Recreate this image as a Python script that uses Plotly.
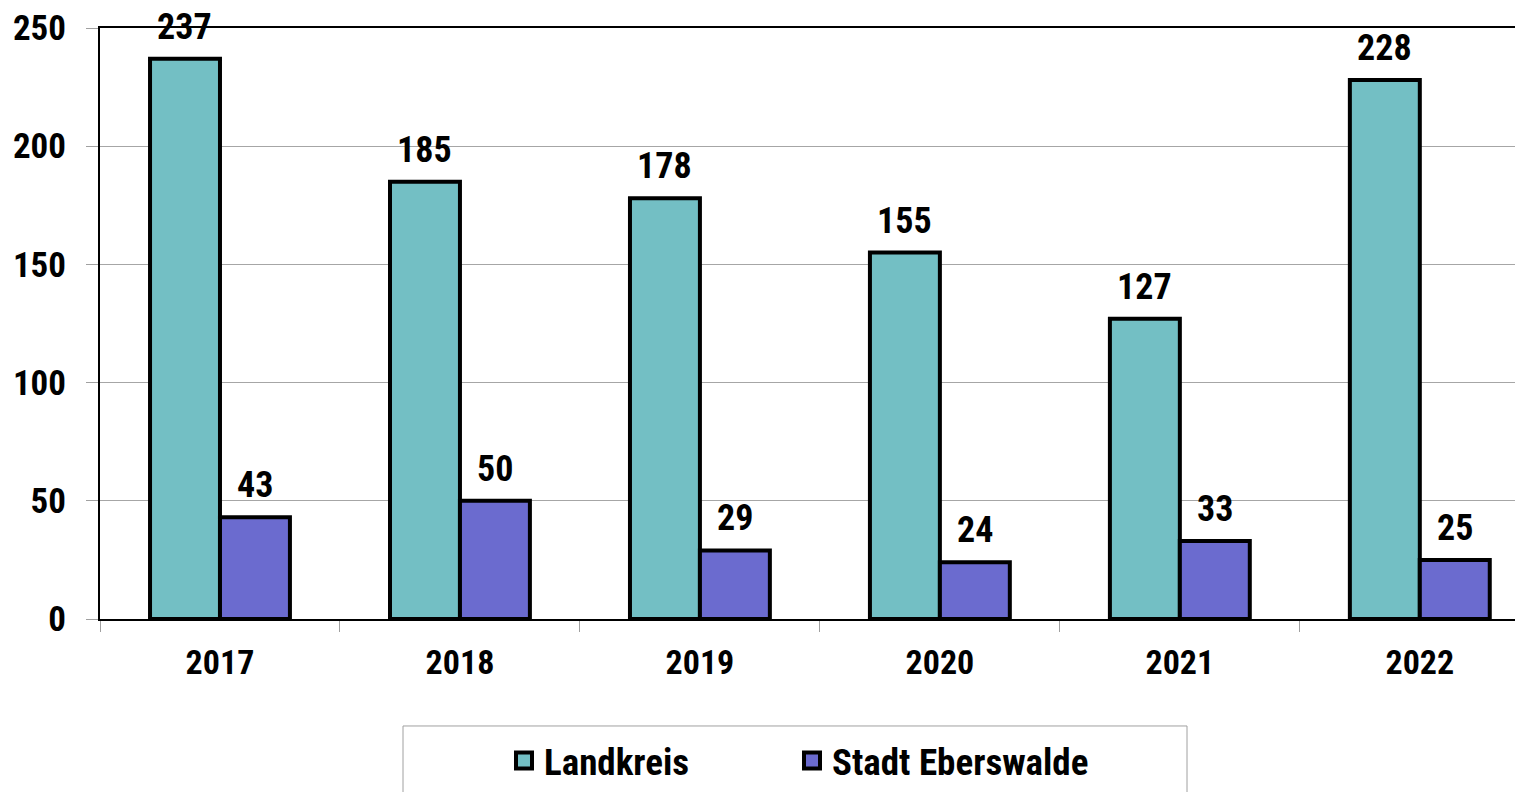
import plotly.graph_objects as go

years = ["2017", "2018", "2019", "2020", "2021", "2022"]
landkreis = [237, 185, 178, 155, 127, 228]
eberswalde = [43, 50, 29, 24, 33, 25]

FONT = "Liberation Sans Narrow, Arial Narrow, Roboto Condensed, sans-serif"
TEAL = "#73BFC4"
PURPLE = "#6B6BCF"

fig = go.Figure()
fig.add_trace(go.Bar(
    x=years, y=landkreis, name="Landkreis", showlegend=False,
    marker=dict(color=TEAL, line=dict(color="black", width=4)),
))
fig.add_trace(go.Bar(
    x=years, y=eberswalde, name="Stadt Eberswalde", showlegend=False,
    marker=dict(color=PURPLE, line=dict(color="black", width=4)),
))

# legend entries with bigger square swatches, one legend each
for name, col, lg in (("Landkreis", TEAL, "legend"),
                      ("Stadt Eberswalde", PURPLE, "legend2")):
    fig.add_trace(go.Scatter(
        x=[None], y=[None], mode="markers", name=name, legend=lg,
        marker=dict(symbol="square", size=16, color=col,
                    line=dict(color="black", width=4)),
    ))

# value labels above bars
for i, (a, b) in enumerate(zip(landkreis, eberswalde)):
    for val, shift in ((a, -35), (b, 35)):
        fig.add_annotation(
            xref="x", yref="y", x=i, y=val, text=f"<b>{val}</b>",
            showarrow=False, xshift=shift, yshift=9, yanchor="bottom",
            font=dict(family=FONT, size=36, color="black"),
        )

# legend frame
fig.add_shape(
    type="rect", xref="paper", yref="paper",
    x0=(403 - 100) / 1423, x1=(1187 - 100) / 1423,
    y0=-0.181, y1=-0.35,
    line=dict(color="#A0A0A0", width=1), fillcolor="rgba(0,0,0,0)",
)

legend_style = dict(
    orientation="h", xanchor="left", y=-0.187, yanchor="top",
    bgcolor="rgba(0,0,0,0)",
    font=dict(family=FONT, size=37, color="black", weight="bold"),
)

fig.update_layout(
    width=1515, height=784,
    margin=dict(l=92, r=0, t=20, b=172),
    plot_bgcolor="white", paper_bgcolor="white",
    barmode="group", bargap=0.417, bargroupgap=0,
    font=dict(family=FONT, size=37, color="black"),
    showlegend=True,
    legend=dict(x=(504 - 100) / 1423, **legend_style),
    legend2=dict(x=(792 - 100) / 1423, **legend_style),
)

fig.update_xaxes(
    type="category", range=[-0.5, 5.43], automargin=False,
    showline=True, linecolor="black", linewidth=2, mirror=True,
    ticks="outside", tickson="boundaries", ticklen=11, tickcolor="#A0A0A0",
    tickfont=dict(family=FONT, size=34, weight="bold"),
    ticklabelstandoff=12,
)
fig.update_yaxes(
    range=[0, 250], dtick=50, automargin=False,
    showgrid=True, gridcolor="#A6A6A6", gridwidth=1,
    showline=True, linecolor="black", linewidth=2,
    ticks="outside", ticklen=12, tickcolor="#A0A0A0",
    tickfont=dict(family=FONT, size=35, weight="bold"),
    ticklabelstandoff=13,
)

fig.write_html("out.html")
